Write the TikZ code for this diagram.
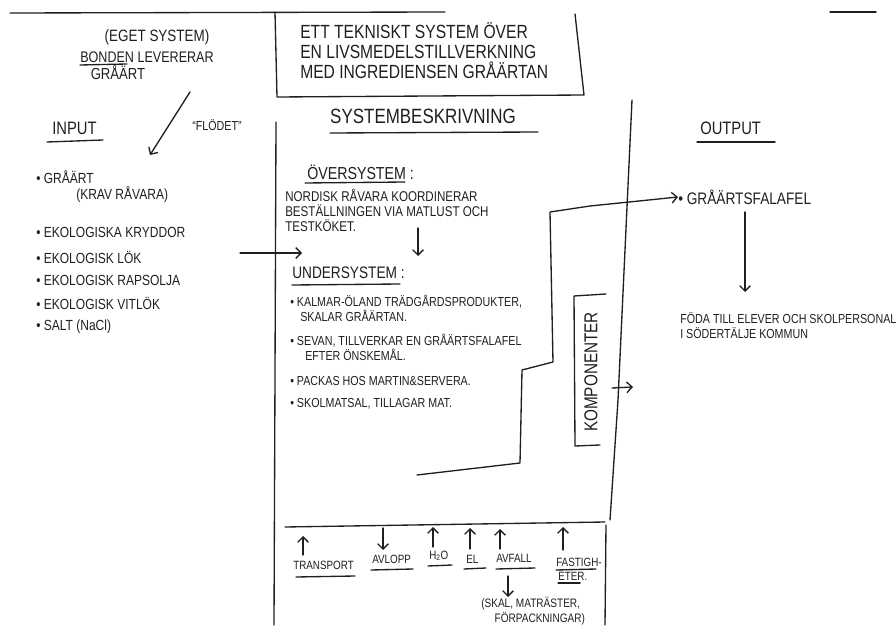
\documentclass[tikz,border=0pt]{standalone}
\usepackage{fontspec}
\setmainfont{Liberation Sans}[FakeStretch=0.82]
\usetikzlibrary{arrows.meta}
\begin{document}
\begin{tikzpicture}[x=0.75pt,y=-0.75pt,
  ln/.style={line width=1pt,line cap=round,line join=round,draw=black!88},
  arr/.style={ln,-{Straight Barb[length=4pt,width=8pt]}},
  tx/.style={anchor=west,inner sep=0pt,text=black!88},
  tc/.style={inner sep=0pt,text=black!88},
  fIn/.style={font=\fontsize{11}{13}\selectfont},
  fSub/.style={font=\fontsize{9.8}{11.5}\selectfont},
  fBot/.style={font=\fontsize{9}{10}\selectfont}]
\useasboundingbox (0,0) rectangle (896,627);
% frame lines
\draw[ln] (10,13) -- (445,12);
\draw[ln] (830,12) -- (876,12);
\draw[ln] (275,12) -- (277,97) -- (584,95) -- (575,14);
\draw[ln] (276,122) -- (274,625);
\draw[ln] (632,100) -- (618,400) -- (610,520);
\draw[ln] (285,527) -- (605,522);
\draw[ln] (606,525) -- (605,625);
% title box
\node[tx,align=left,anchor=north west,font=\fontsize{14.3}{15}\selectfont] (title) at (300,22)
 {ETT TEKNISKT SYSTEM ÖVER\\EN LIVSMEDELSTILLVERKNING\\MED INGREDIENSEN GRÅÄRTAN};
% top left
\node[tc,font=\fontsize{12.3}{14}\selectfont] (eget) at (157,37) {(EGET SYSTEM)};
\node[tc,font=\fontsize{11.5}{13}\selectfont] (bonden) at (147,57) {BONDEN LEVERERAR};
\draw[ln] (80,65) -- (127,64);
\node[tc,font=\fontsize{12}{13}\selectfont] (graart0) at (118,73) {GRÅÄRT};
\coordinate (fstart) at (190,92);
\coordinate (fend) at (150,155);
\draw[arr] (fstart) -- (fend);
\node[tc,font=\fontsize{9.8}{11}\selectfont] (flodet) at (217,125) {“FLÖDET”};
% input
\node[tx,font=\fontsize{13.5}{15}\selectfont] (input) at (52,128) {INPUT};
\draw[ln] (47,142) -- (103,140);
\node[tx,fIn] (i1) at (36,177) {• GRÅÄRT};
\node[tx,fIn] (i1b) at (76,195) {(KRAV RÅVARA)};
\node[tx,fIn] (i2) at (36,232) {• EKOLOGISKA KRYDDOR};
\node[tx,fIn] (i3) at (36,257) {• EKOLOGISK LÖK};
\node[tx,fIn] (i4) at (36,280) {• EKOLOGISK RAPSOLJA};
\node[tx,fIn] (i5) at (36,303) {• EKOLOGISK VITLÖK};
\node[tx,fIn] (i6) at (36,327) {• SALT (NaCl)};
\coordinate (inA) at (240,253);
\coordinate (inB) at (302,253);
\draw[arr] (inA) -- (inB);
% system description
\node[tc,font=\fontsize{15.5}{17}\selectfont] (sysb) at (423,116) {SYSTEMBESKRIVNING};
\draw[ln] (330,133) -- (538,132);
\node[tx,font=\fontsize{13}{15}\selectfont] (over) at (307,172) {ÖVERSYSTEM :};
\draw[ln] (305,183) -- (405,182);
\node[tx,align=left,anchor=north west,font=\fontsize{10.6}{11.4}\selectfont] (nord) at (285,189)
 {NORDISK RÅVARA KOORDINERAR\\BESTÄLLNINGEN VIA MATLUST OCH\\TESTKÖKET.};
\coordinate (dA) at (418,228);
\coordinate (dB) at (418,256);
\draw[arr] (dA) -- (dB);
\node[tx,font=\fontsize{12.5}{14}\selectfont] (under) at (292,273) {UNDERSYSTEM :};
\draw[ln] (292,285) -- (400,284);
\node[tx,fSub] (u1) at (290,302) {• KALMAR-ÖLAND TRÄDGÅRDSPRODUKTER,};
\node[tx,fSub] (u1b) at (300,316) {SKALAR GRÅÄRTAN.};
\node[tx,fSub] (u2) at (290,341) {• SEVAN, TILLVERKAR EN GRÅÄRTSFALAFEL};
\node[tx,fSub] (u2b) at (305,355) {EFTER ÖNSKEMÅL.};
\node[tx,fSub] (u3) at (290,381) {• PACKAS HOS MARTIN\&SERVERA.};
\node[tx,fSub] (u4) at (290,404) {• SKOLMATSAL, TILLAGAR MAT.};
% output
\node[tx,font=\fontsize{13.5}{15}\selectfont] (output) at (700,128) {OUTPUT};
\draw[ln] (697,142) -- (775,142);
\node[tx,font=\fontsize{12.5}{14}\selectfont] (falafel) at (678,197) {• GRÅÄRTSFALAFEL};
\coordinate (p0) at (417,475);
\draw[arr] (p0) -- (520,463) -- (522,370) -- (553,362) -- (550,212) -- (590,206) -- (falafel.west);
\node[tx,align=left,anchor=north west,font=\fontsize{9.8}{11.2}\selectfont] (foda) at (680,312)
 {FÖDA TILL ELEVER OCH SKOLPERSONAL\\I SÖDERTÄLJE KOMMUN};
\coordinate (oA) at (745,212);
\coordinate (oB) at (745,292);
\draw[arr] (oA) -- (oB);
% components
\draw[ln] (606,294) -- (574,296) -- (575,446) -- (600,445);
\node[tc,font=\fontsize{14}{15}\selectfont,rotate=90] (komp) at (591,372) {KOMPONENTER};
\coordinate (kA) at (612,388);
\coordinate (kB) at (633,387);
\draw[arr] (kA) -- (kB);
% bottom resources
\node[tx,fBot] (transport) at (293,565) {TRANSPORT};
\draw[ln] (296,577) -- (355,576);
\draw[arr] (303,555) -- (303,536);
\node[tx,fBot] (avlopp) at (372,559) {AVLOPP};
\draw[ln] (371,570) -- (413,569);
\coordinate (avA) at (383,528);
\draw[arr] (avA) -- (383,550);
\node[tx,fBot] (h2o) at (429,556) {H\textsubscript{2}O};
\draw[ln] (428,566) -- (452,565);
\draw[arr] (433,547) -- (433,527);
\node[tx,fBot] (el) at (466,559) {EL};
\draw[ln] (464,569) -- (486,568);
\draw[arr] (470,549) -- (470,528);
\node[tx,fBot] (avfall) at (496,558) {AVFALL};
\draw[ln] (496,569) -- (535,568);
\draw[arr] (500,549) -- (500,529);
\draw[arr] (508,576) -- (508,597);
\node[tx,fBot] (fast1) at (556,562) {FASTIGH-};
\node[tx,fBot] (fast2) at (558,576) {ETER.};
\draw[ln] (556,570) -- (596,569);
\draw[ln] (558,583) -- (580,583);
\draw[arr] (563,550) -- (563,527);
\node[tx,fBot,align=left,anchor=north west,font=\fontsize{9.2}{11.5}\selectfont] (skal) at (481,597) {(SKAL, MATRÄSTER,\\\hspace*{10pt}FÖRPACKNINGAR)};
\end{tikzpicture}
\end{document}
